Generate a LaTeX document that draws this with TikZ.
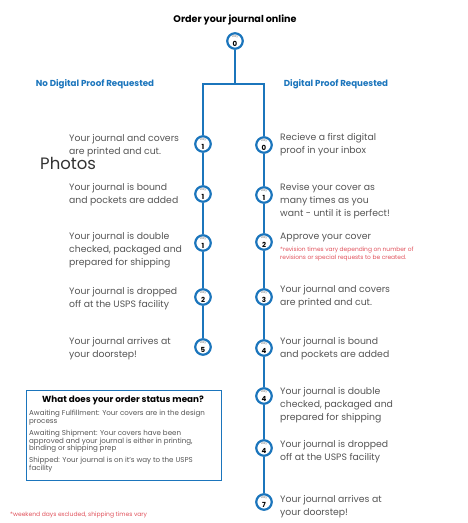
\documentclass[tikz,border=0pt]{standalone}
\usepackage{fontspec}
\setmainfont{Poppins}
\usetikzlibrary{positioning}
\definecolor{proofblue}{HTML}{1B75BC}
\definecolor{notered}{HTML}{E0505A}
\definecolor{bodygrey}{HTML}{555555}
\tikzset{
  flow/.style={draw=proofblue, line width=1.8pt},
  daycirc/.style={circle, draw=proofblue, line width=2.2pt, fill=white, minimum size=15.5pt, inner sep=0pt, align=center},
  steptext/.style={anchor=north west, align=left, inner sep=0pt, text=bodygrey, font=\fontsize{9.3}{13.3}\selectfont},
  headtext/.style={text=proofblue, font=\bfseries\fontsize{8.7}{10}\selectfont},
  smallnote/.style={anchor=north west, align=left, inner sep=0pt, text=notered, font=\fontsize{5.9}{8}\selectfont},
}
\newcommand{\dayno}[1]{{\fontsize{3.3}{3.3}\selectfont\color{gray}Day}\\[-2.5pt]{\fontsize{7}{7}\selectfont\bfseries #1}}

\begin{document}
\begin{tikzpicture}[x=1pt, y=-1pt]
  \useasboundingbox (0,0) rectangle (468,523);
  \node[font=\bfseries\fontsize{9.6}{11}\selectfont] (title) at (235,20) {Order your journal online};
  \node[daycirc] (c0) at (235,41) {\dayno{0}};
  \coordinate (split) at (235,84);
  \node[headtext] (nohead) at (95,84) {No Digital Proof Requested};
  \node[headtext] (yeshead) at (336,84) {Digital Proof Requested};

  % the two timelines
  \foreach \n/\y/\d in {1/144/1, 2/194/1, 3/243/1, 4/297/2, 5/347/5}
    \node[daycirc] (l\n) at (203,\y) {\dayno{\d}};
  \foreach \n/\y/\d in {1/145/0, 2/195/1, 3/242/2, 4/297/3, 5/348/4, 6/396/4, 7/448/4, 8/502/7}
    \node[daycirc] (r\n) at (264,\y) {\dayno{\d}};
  \draw[flow] (c0) -- (split);
  \draw[flow] (l1) |- (split) -| (r1);
  \foreach \a/\b in {1/2, 2/3, 3/4, 4/5}
    \draw[flow] (l\a) -- (l\b);
  \foreach \a/\b in {1/2, 2/3, 3/4, 4/5, 5/6, 6/7, 7/8}
    \draw[flow] (r\a) -- (r\b);

  % left steps
  \node[steptext] (lt1) at (69,134) {Your journal and covers\\are printed and cut.};
  \node[steptext] (lt2) at (69,183) {Your journal is bound\\and pockets are added};
  \node[steptext] (lt3) at (69,232) {Your journal is double\\checked, packaged and\\prepared for shipping};
  \node[steptext] (lt4) at (69,287) {Your journal is dropped\\off at the USPS facility};
  \node[steptext] (lt5) at (69,337) {Your journal arrives at\\your doorstep!};
  \node[anchor=west, inner sep=0pt, text=black!80, font=\fontsize{16.5}{18}\selectfont] (photos) at (40,163) {Photos};

  % right steps
  \node[steptext] (rt1) at (280,133) {Recieve a first digital\\proof in your inbox};
  \node[steptext] (rt2) at (280,183) {Revise your cover as\\many times as you\\want - until it is perfect!};
  \node[steptext] (rt3) at (280,233) {Approve your cover};
  \node[smallnote] (rt3note) at (280,247) {*revision times vary depending on number of\\revisions or special requests to be created.};
  \node[steptext] (rt4) at (280,285) {Your journal and covers\\are printed and cut.};
  \node[steptext] (rt5) at (280,337) {Your journal is bound\\and pockets are added};
  \node[steptext] (rt6) at (280,387) {Your journal is double\\checked, packaged and\\prepared for shipping};
  \node[steptext] (rt7) at (280,440) {Your journal is dropped\\off at the USPS facility};
  \node[steptext] (rt8) at (280,495) {Your journal arrives at\\your doorstep!};

  % status legend
  \node[draw=proofblue, line width=1.2pt, anchor=north west, minimum width=195pt, minimum height=90pt] (statusbox) at (26,390) {};
  \node[font=\bfseries\fontsize{8.8}{10}\selectfont] (statustitle) at (123,400) {What does your order status mean?};
  \node[anchor=north west, align=left, inner sep=0pt, text=bodygrey, font=\fontsize{7.1}{7.8}\selectfont] (statustext) at (29,410)
    {Awaiting Fulfillment: Your covers are in the design\\process\\[4pt]
     Awaiting Shipment: Your covers have been\\approved and your journal is either in printing,\\binding or shipping prep\\[4pt]
     Shipped: Your journal is on it's way to the USPS\\facility};
  \node[anchor=west, inner sep=0pt, text=notered, font=\fontsize{6}{7}\selectfont] (footnote) at (10,515) {*weekend days excluded, shipping times vary};
\end{tikzpicture}
\end{document}
